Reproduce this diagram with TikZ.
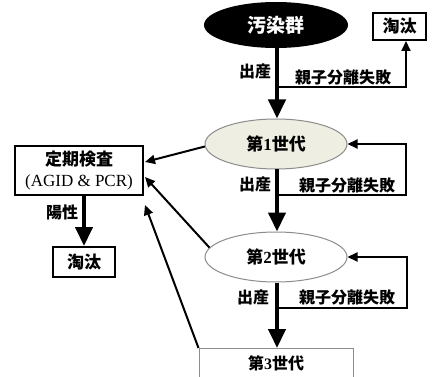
\documentclass[tikz,border=0pt]{standalone}
\usepackage{fontspec}
\setmainfont{Liberation Serif}
\newfontfamily\jp{Noto Sans CJK JP}
\usetikzlibrary{shapes.geometric,arrows.meta}
\definecolor{beige}{HTML}{EEEEE2}
\definecolor{edgegray}{HTML}{8C8C8C}
\tikzset{
  gen/.style={ellipse, draw=edgegray, line width=1pt, minimum width=142pt, minimum height=50pt, inner sep=0pt, font=\fontsize{17}{17}\selectfont\bfseries},
  cullbox/.style={draw=black, line width=2pt, inner sep=0pt, font=\jp\fontsize{17}{17}\selectfont\bfseries},
  lbl/.style={inner sep=0pt, font=\jp\fontsize{16}{16}\selectfont\bfseries},
  bigarrow/.style={line width=4.5pt, -{Triangle[length=19pt,width=17pt]}},
  thinarrow/.style={line width=2pt, -{Triangle[length=10pt,width=9pt]}}
}
\begin{document}
\begin{tikzpicture}[x=1pt,y=-1pt]
\path[use as bounding box, fill=white] (0,0) rectangle (442,377);
% nodes
\node[ellipse, fill=black, minimum width=144pt, minimum height=46pt, inner sep=0pt, text=white, font=\jp\fontsize{19}{19}\selectfont\bfseries] (src) at (276,25) {汚染群};
\node[cullbox, minimum width=53pt, minimum height=27pt] (cullA) at (399.5,26.5) {淘汰};
\node[gen, fill=beige] (g1) at (276,144) {{\jp 第}1{\jp 世代}};
\node[gen, fill=white] (g2) at (276,257) {{\jp 第}2{\jp 世代}};
\node[draw=edgegray, line width=1pt, minimum width=154pt, minimum height=34pt, inner sep=0pt, anchor=north] (g3) at (276,348) {};
\node[font=\fontsize{16}{16}\selectfont\bfseries] (g3t) at (276,363) {{\jp 第}3{\jp 世代}};
\node[cullbox, minimum width=128pt, minimum height=49pt, align=center, font=\fontsize{17}{21}\selectfont] (test) at (79,170.5) {{\jp\bfseries 定期検査}\\(AGID \& PCR)};
\node[cullbox, minimum width=62pt, minimum height=30pt] (cullB) at (84,262) {淘汰};
% coordinates
\coordinate (b1) at (277,87);
\coordinate (c1) at (406,87);
\coordinate (b2) at (277,195);
\coordinate (c2) at (406,195);
\coordinate (b3) at (277,308);
\coordinate (c3) at (407,308);
\coordinate (t1) at (145,162);
\coordinate (t2) at (145,177);
\coordinate (t3) at (145,205);
% main arrows
\draw[bigarrow] (src.south -| b1) -- (g1.north -| b1);
\draw[bigarrow] (g1.south -| b2) -- (g2.north -| b2);
\draw[bigarrow] (g2.south -| b3) -- (g3.north -| b3);
\draw[bigarrow] (test.south -| cullB) -- (cullB.north);
% feedback
\draw[thinarrow] (b1) -- (c1) -- (c1 |- cullA.south);
\draw[thinarrow] (b2) -- (c2) -- (c2 |- g1.east) -- (g1.east);
\draw[thinarrow] (b3) -- (c3) -- (c3 |- g2.east) -- (g2.east);
% to test
\draw[thinarrow] (g1.182) -- (t1);
\draw[thinarrow] (g2.172) -- (t2);
\draw[thinarrow] (g3.north west) -- (t3);
% labels
\node[lbl] (l1) at (255,71) {出産};
\node[lbl] (l2) at (343,77) {親子分離失敗};
\node[lbl] (l3) at (255,184) {出産};
\node[lbl] (l4) at (347,185) {親子分離失敗};
\node[lbl] (l5) at (253,297) {出産};
\node[lbl] (l6) at (347,297) {親子分離失敗};
\node[lbl] (l7) at (62,212) {陽性};
\end{tikzpicture}
\end{document}
